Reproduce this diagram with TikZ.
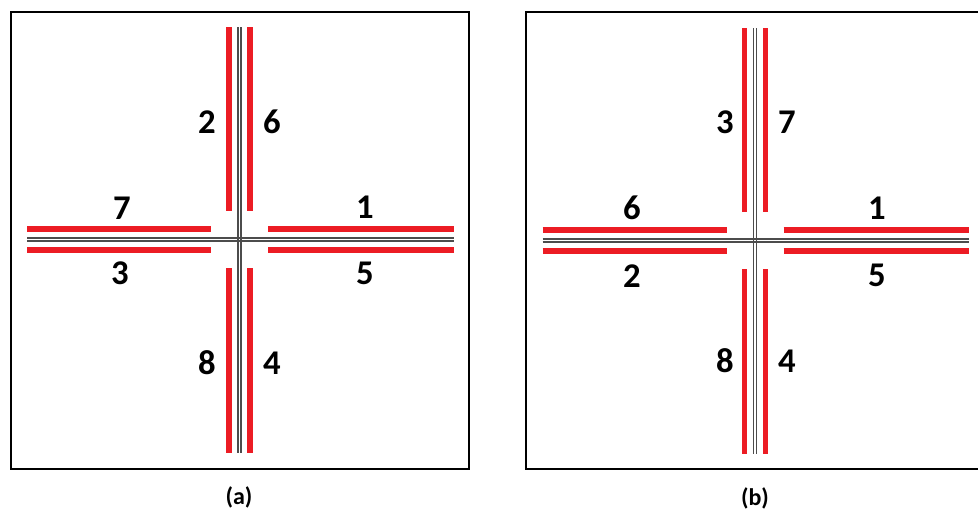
\documentclass[tikz,border=0pt]{standalone}
\usepackage{fontspec}
\setmainfont{Carlito}
\definecolor{lanered}{RGB}{236,28,36}
\begin{document}
\begin{tikzpicture}[x=0.75pt,y=-0.75pt,
    frm/.style={draw=black, line width=2.2pt},
    road/.style={draw=black!70, line width=0.9pt},
    lane/.style={draw=lanered, line width=4.2pt},
    num/.style={font=\fontsize{26}{30}\selectfont\bfseries, inner sep=0pt},
    sublabel/.style={font=\fontsize{18}{22}\selectfont\bfseries, inner sep=0pt}]
    \useasboundingbox (0,0) rectangle (978,514);
    \clip (0,0) rectangle (978,514);
    % panel frames
    \draw[frm] (11,12) rectangle (469,469);
    \draw[frm] (526,12) rectangle (992,469);
    % crossings
    \foreach \cx/\cy in {239.5/239.5, 755/240.5}{
        \begin{scope}[shift={(\cx,\cy)}]
            \draw[road] (-1.5,-212.5) -- (-1.5,213.5);
            \draw[road] (1.5,-212.5) -- (1.5,213.5);
            \draw[road] (-212.5,-1.5) -- (214,-1.5);
            \draw[road] (-212.5,1.5) -- (214,1.5);
            \foreach \s in {-10.5,10.5}{
                \draw[lane] (\s,-212.5) -- (\s,-28.5);
                \draw[lane] (\s,28.5) -- (\s,213.5);
                \draw[lane] (-212.5,\s) -- (-28.5,\s);
                \draw[lane] (28.5,\s) -- (214,\s);
            }
        \end{scope}
    }
    % labels (a)
    \node[num] (a2) at (207,122) {2};
    \node[num] (a6) at (272,122) {6};
    \node[num] (a7) at (122,208) {7};
    \node[num] (a1) at (365,207) {1};
    \node[num] (a3) at (120,273) {3};
    \node[num] (a5) at (365,273) {5};
    \node[num] (a8) at (207,363) {8};
    \node[num] (a4) at (272,363) {4};
    \node[sublabel] (capa) at (239,497) {(a)};
    % labels (b)
    \node[num] (b3) at (725,122) {3};
    \node[num] (b7) at (787,122) {7};
    \node[num] (b6) at (632,208) {6};
    \node[num] (b1) at (877,208) {1};
    \node[num] (b2) at (632,276) {2};
    \node[num] (b5) at (877,275) {5};
    \node[num] (b8) at (725,361) {8};
    \node[num] (b4) at (787,361) {4};
    \node[sublabel] (capb) at (755,498) {(b)};
\end{tikzpicture}
\end{document}
